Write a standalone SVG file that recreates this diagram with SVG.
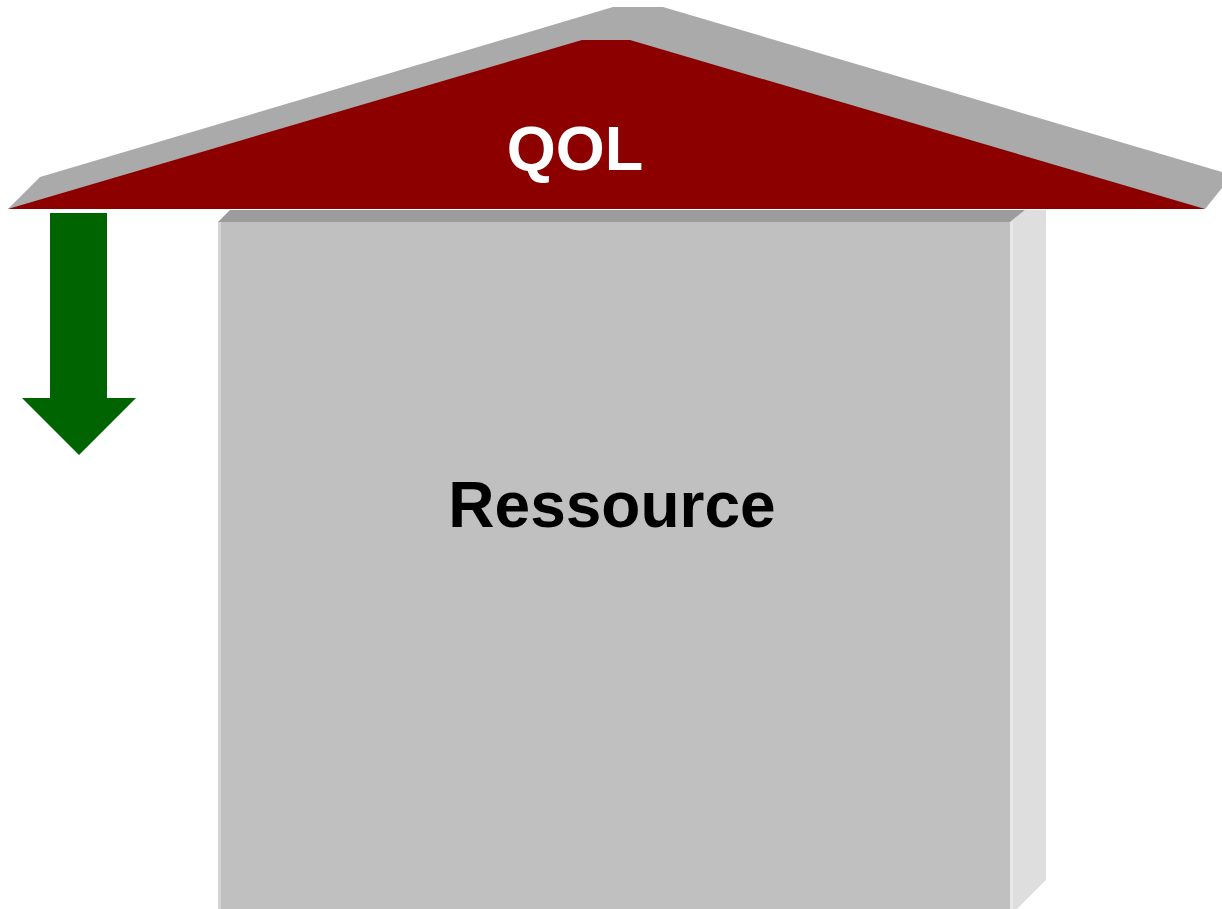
<svg xmlns="http://www.w3.org/2000/svg" width="1222" height="909" viewBox="0 0 1222 909">
<style>
.lbl{font-family:"Liberation Sans",Arial,sans-serif;font-weight:bold;text-anchor:middle}
</style>
<rect width="1222" height="909" fill="#ffffff"/>
<g id="building">
<polygon points="1010,222 1025,210 1046,210 1046,880 1017,909 1010,909" fill="#dedede"/>
<polygon points="218,222 230,210 1025,210 1010,222" fill="#9c9c9c"/>
<rect x="218" y="222" width="792" height="687" fill="#c0c0c0"/>
<rect x="218" y="222" width="3" height="687" fill="#d4d4d4"/>
<rect x="1010" y="222" width="3" height="687" fill="#e8e8e8"/>
<text class="lbl" x="612" y="527" font-size="64" fill="#000000">Ressource</text>
</g>
<g id="roof">
<polygon points="8,209 40,177 613,7 663,7 1222,172 1222,188 1205,209" fill="#aaaaaa"/>
<polygon points="8,209 582,40 630,40 1205,209" fill="#8c0000"/>
<text class="lbl" x="575" y="170" font-size="63" fill="#ffffff">QOL</text>
</g>
<g id="arrow">
<polygon points="50,213 107,213 107,398 136,398 79,455 22,398 50,398" fill="#006400"/>
</g>
</svg>
